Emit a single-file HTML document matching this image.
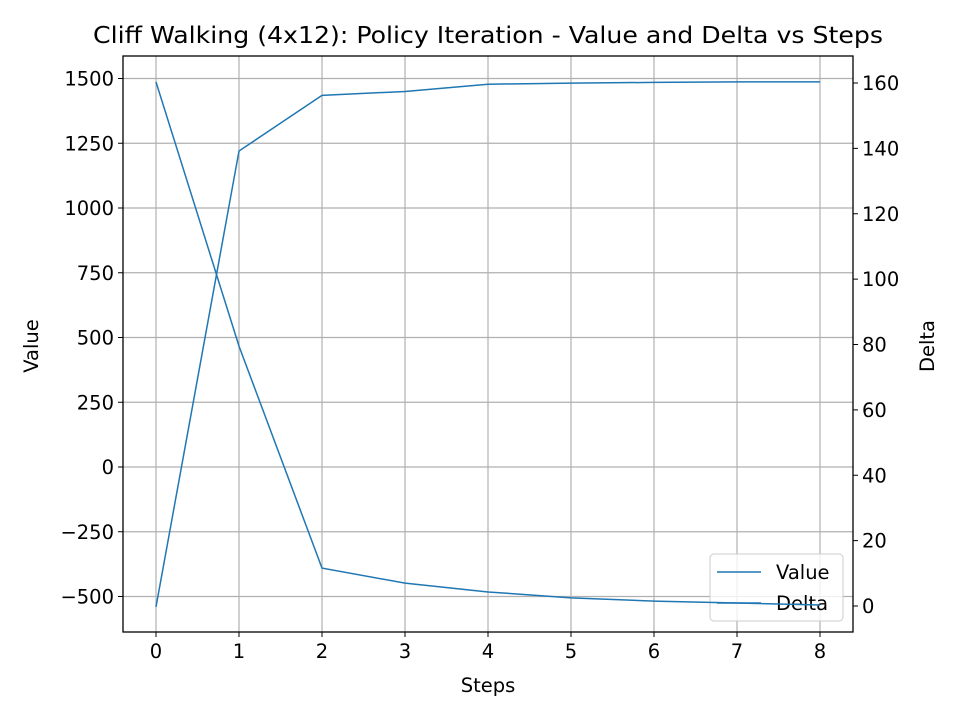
<!DOCTYPE html>
<html><head><meta charset="utf-8"><style>body{margin:0;background:#fff}svg{display:block;font-family:"DejaVu Sans","Liberation Sans",sans-serif}</style></head>
<body>
<svg id="c" width="960" height="720"></svg>
<script>
const steps=[0,1,2,3,4,5,6,7,8];
const valueSeries=[-540,1220,1435,1450,1478,1482,1485,1487,1487];
const deltaSeries=[160.3,79.5,11.6,7,4.3,2.5,1.5,0.9,0.3];
const xTicks=[0,1,2,3,4,5,6,7,8];
const leftTicks=[-500,-250,0,250,500,750,1000,1250,1500];
const rightTicks=[0,20,40,60,80,100,120,140,160];
const L=123,R=853,T=56,B=632;
const FS=19.5;
const sx=v=>156+v*83;
const syL=v=>467-v*64.75/250;
const syR=v=>606-v*523/160;
const svg=document.getElementById('c');
const NS='http://www.w3.org/2000/svg';
function mk(t,a,txt){const e=document.createElementNS(NS,t);for(const k in a)e.setAttribute(k,a[k]);if(txt!=null)e.textContent=txt;svg.appendChild(e);return e;}
let e;
xTicks.forEach(v=>{e=mk('line',{x1:sx(v),x2:sx(v),y1:T,y2:B,stroke:'#b0b0b0','stroke-width':1.2});


mk('line',{x1:sx(v),x2:sx(v),y1:B,y2:B+5,stroke:'#000'});
e=mk('text',{x:sx(v),y:B+26,'text-anchor':'middle','font-size':FS},v);

});
leftTicks.forEach(v=>{e=mk('line',{x1:L,x2:R,y1:syL(v),y2:syL(v),stroke:'#b0b0b0','stroke-width':1.2});


mk('line',{x1:L-5,x2:L,y1:syL(v),y2:syL(v),stroke:'#000'});
e=mk('text',{x:L-9,y:syL(v)+7,'text-anchor':'end','font-size':FS},v<0?'\u2212'+(-v):v);

});
rightTicks.forEach(v=>{mk('line',{x1:R,x2:R+5,y1:syR(v),y2:syR(v),stroke:'#000'});
e=mk('text',{x:R+9,y:syR(v)+7,'font-size':FS},v);

});
e=mk('polyline',{points:steps.map((s,i)=>sx(s)+','+syL(valueSeries[i])).join(' '),fill:'none',stroke:'#1f77b4','stroke-width':1.5});


e=mk('rect',{x:710,y:554,width:133,height:67,rx:4,fill:'#fff','fill-opacity':0.8,stroke:'#ccc'});


mk('line',{x1:717,x2:761,y1:572,y2:572,stroke:'#1f77b4','stroke-width':1.5});
e=mk('text',{x:776,y:579,'font-size':FS},'Value');


mk('line',{x1:717,x2:761,y1:603,y2:603,stroke:'#1f77b4','stroke-width':1.5});
e=mk('text',{x:776,y:610,'font-size':FS},'Delta');


e=mk('polyline',{points:steps.map((s,i)=>sx(s)+','+syR(deltaSeries[i])).join(' '),fill:'none',stroke:'#1f77b4','stroke-width':1.5});


e=mk('rect',{x:L,y:T,width:R-L,height:B-T,fill:'none',stroke:'#000','stroke-width':1.3});


e=mk('text',{x:488,y:43,'text-anchor':'middle','font-size':23.5,textLength:790,lengthAdjust:'spacingAndGlyphs'},'Cliff Walking (4x12): Policy Iteration - Value and Delta vs Steps');


e=mk('text',{x:488,y:692,'text-anchor':'middle','font-size':FS},'Steps');


e=mk('text',{x:38,y:346,'text-anchor':'middle','font-size':FS,transform:'rotate(-90 38 346)'},'Value');


e=mk('text',{x:934,y:346,'text-anchor':'middle','font-size':FS,transform:'rotate(-90 934 346)'},'Delta');


</script>
</body></html>
